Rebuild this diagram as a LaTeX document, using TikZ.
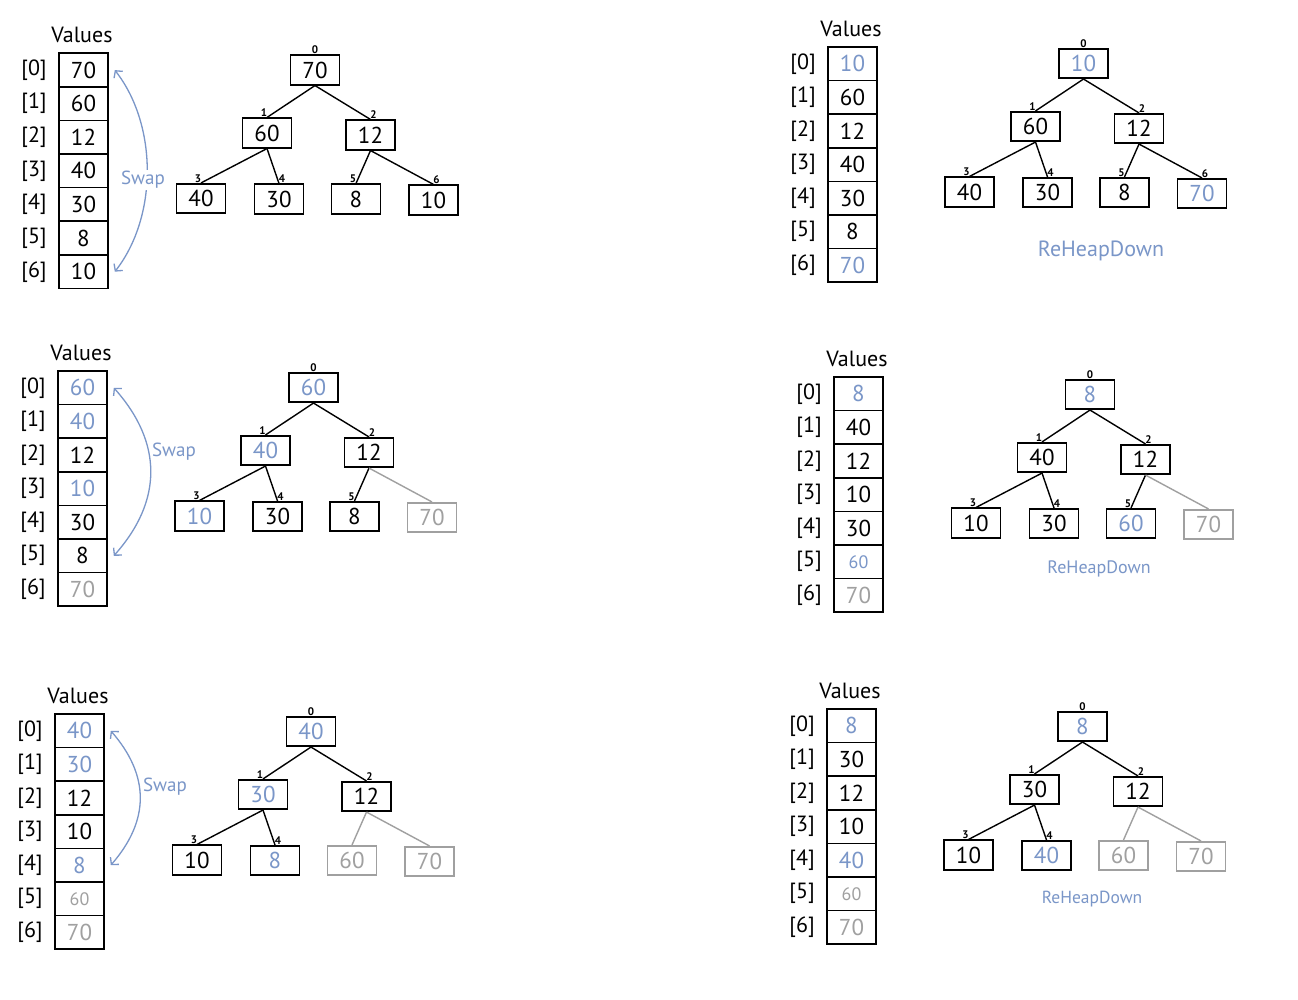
\documentclass[tikz,border=0pt]{standalone}
\usepackage{fontspec}
\setmainfont{PT Sans}
\usetikzlibrary{arrows.meta}
\definecolor{hblue}{RGB}{122,150,200}
\definecolor{hgray}{RGB}{160,160,160}
\tikzset{
  cell/.style={draw=black, line width=1.6pt, minimum width=49pt, minimum height=33.6pt, inner sep=0pt, font=\fontsize{23}{26}\selectfont},
  c-k/.style={cell, text=black},
  c-u/.style={cell, text=hblue},
  c-g/.style={cell, text=hgray},
  c-us/.style={cell, text=hblue, font=\fontsize{18}{22}\selectfont},
  c-gs/.style={cell, text=hgray, font=\fontsize{18}{22}\selectfont},
  idxlab/.style={font=\fontsize{22}{26}\selectfont, inner sep=0pt},
  valuestitle/.style={font=\fontsize{22}{26}\selectfont, inner sep=0pt},
  tnode/.style={line width=1.6pt, minimum width=49pt, minimum height=29.5pt, inner sep=0pt, font=\fontsize{23}{26}\selectfont},
  t-k/.style={tnode, draw=black, text=black},
  t-u/.style={tnode, draw=black, text=hblue},
  t-g/.style={tnode, draw=hgray, text=hgray},
  e-k/.style={draw=black, line width=1.4pt},
  e-u/.style={e-k},
  e-g/.style={draw=hgray, line width=1.4pt},
  tidx/.style={font=\bfseries\fontsize{11}{11}\selectfont, inner sep=0.5pt, anchor=south},
  swaparrow/.style={draw=hblue, line width=1.3pt, {Straight Barb[length=5pt,width=11pt]}-{Straight Barb[length=5pt,width=11pt]}},
  swaplabel/.style={text=hblue, font=\fontsize{19}{22}\selectfont, inner sep=1pt},
  rhd/.style={text=hblue, inner sep=0pt},
}
\def\gname{g}
\newcommand\valarray[4]{%
  \node[valuestitle] (#1-title) at ({#2+23},{#3-18}) {Values};
  \foreach \s/\v [count=\i from 0] in {#4} {
    \node[c-\s] (#1-\i) at ({#2+24.5},{#3+16.8+33.6*\i}) {\v};
    \node[idxlab] (#1-l\i) at ({#2-25},{#3+16.8+33.6*\i}) {[\i]};
  }
}
\newcommand\heaptree[4]{%
  \foreach \s/\v [count=\i from 0] in {#4} {
    \pgfmathsetmacro\dx{{0,-48,55.5,-114,-36,41,118.5}[\i]}
    \pgfmathsetmacro\dy{{0,63,65,128.5,129,129,130}[\i]}
    \node[t-\s] (#1-\i) at ({#2+\dx},{#3+\dy}) {\v};
  }
  \foreach \s/\v [count=\i from 0] in {#4} {
    \pgfmathsetmacro\lx{{0,-3,3,-3,3,-3,3}[\i]}
    \ifnum\i>0
      \pgfmathtruncatemacro\pp{(\i-1)/2}
      \draw[e-\s] (#1-\pp.south) -- (#1-\i.north);
    \fi
    \edef\cur{\s}
    \ifx\cur\gname\else
      \node[tidx, xshift=\lx] (#1-n\i) at (#1-\i.north) {\i};
    \fi
  }
}
\begin{document}
\begin{tikzpicture}[x=1pt,y=-1pt]
\useasboundingbox (0,0) rectangle (1298,1000);
\fill[white] (0,0) rectangle (1298,1000);

% Panel 1
\valarray{pa}{59}{53.3}{k/70,k/60,k/12,k/40,k/30,k/8,k/10}
\heaptree{pt}{315}{70}{k/70,k/60,k/12,k/40,k/30,k/8,k/10}
\draw[swaparrow] ([xshift=6]pa-6.east) .. controls ([xshift=49,yshift=55]pa-6.east) and ([xshift=49,yshift=-55]pa-0.east) .. ([xshift=6]pa-0.east);
\node[swaplabel, fill=white] (pswap) at (143,180) {Swap};

% Panel 2
\valarray{qa}{828}{47}{u/10,k/60,k/12,k/40,k/30,k/8,u/70}
\heaptree{qt}{1083.5}{63.5}{u/10,k/60,k/12,k/40,k/30,k/8,u/70}
\node[rhd, font=\fontsize{22}{26}\selectfont] (qrhd) at (1101,251) {ReHeapDown};

% Panel 3
\valarray{ra}{58}{371}{u/60,u/40,k/12,u/10,k/30,k/8,g/70}
\heaptree{rt}{313.5}{387.5}{u/60,u/40,k/12,u/10,k/30,k/8,g/70}
\draw[swaparrow] ([xshift=6]ra-5.east) .. controls ([xshift=55,yshift=55]ra-5.east) and ([xshift=55,yshift=-55]ra-0.east) .. ([xshift=6]ra-0.east);
\node[swaplabel] (rswap) at (174,452) {Swap};

% Panel 4
\valarray{sa}{834}{377}{u/8,k/40,k/12,k/10,k/30,us/60,g/70}
\heaptree{st}{1090}{394.5}{u/8,k/40,k/12,k/10,k/30,u/60,g/70}
\node[rhd, font=\fontsize{18}{22}\selectfont] (srhd) at (1099,569) {ReHeapDown};

% Panel 5
\valarray{ua}{55}{714}{u/40,u/30,k/12,k/10,u/8,gs/60,g/70}
\heaptree{ut}{311}{731.5}{u/40,u/30,k/12,k/10,u/8,g/60,g/70}
\draw[swaparrow] ([xshift=6]ua-4.east) .. controls ([xshift=45,yshift=45]ua-4.east) and ([xshift=45,yshift=-45]ua-0.east) .. ([xshift=6]ua-0.east);
\node[swaplabel] (uswap) at (165,787) {Swap};

% Panel 6
\valarray{va}{827}{709}{u/8,k/30,k/12,k/10,u/40,gs/60,g/70}
\heaptree{vt}{1082.5}{726.5}{u/8,k/30,k/12,k/10,u/40,g/60,g/70}
\node[rhd, font=\fontsize{17.5}{21}\selectfont] (vrhd) at (1092,899) {ReHeapDown};
\end{tikzpicture}
\end{document}
